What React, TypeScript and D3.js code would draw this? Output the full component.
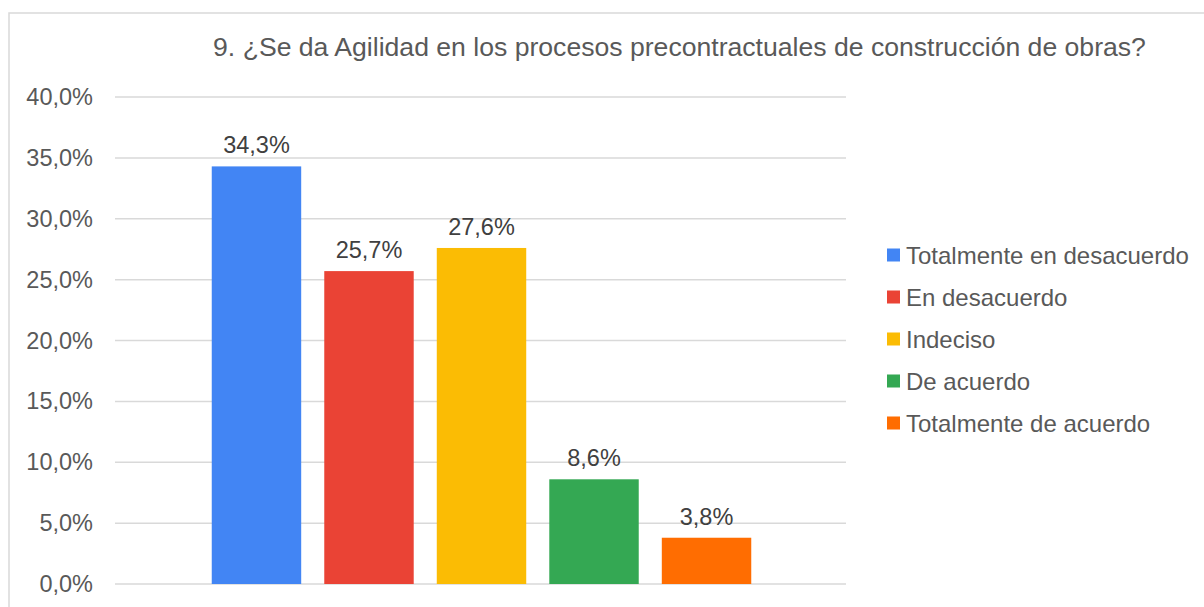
import React from "react";
import * as d3 from "d3";

const title = "9. ¿Se da Agilidad en los procesos precontractuales de construcción de obras?";
const categories = ["Totalmente en desacuerdo", "En desacuerdo", "Indeciso", "De acuerdo", "Totalmente de acuerdo"];
const values = [34.3, 25.7, 27.6, 8.6, 3.8];
const colors = ["#4285F4", "#EA4335", "#FBBC04", "#34A853", "#FF6D01"];
const yTicks = [0, 5, 10, 15, 20, 25, 30, 35, 40];

const fmt = (v: number) => v.toFixed(1).replace(".", ",") + "%";

export default function App() {
  const W = 1204, H = 607;
  const plotL = 115, plotR = 846, plotT = 97, plotB = 584;
  const y = d3.scaleLinear().domain([0, 40]).range([plotB, plotT]);
  const x = d3.scaleBand<string>().domain(categories).range([200.5, 762.5]).paddingInner(0.205).paddingOuter(0.1);
  const font = "Arial, 'Liberation Sans', Helvetica, sans-serif";
  return (
    <svg width={W} height={H} style={{ position: "absolute", left: 0, top: 0 }} fontFamily={font}>
      <rect x={0} y={0} width={W} height={H} fill="#fff" />
      <rect x={9} y={13} width={W + 20} height={H + 20} fill="none" stroke="#d9d9d9" strokeWidth={1.5} />
      <text x={679.5} y={55.5} textAnchor="middle" fontSize={26.6} fill="#595959">{title}</text>
      {yTicks.map((t) => (
        <g key={t}>
          <line x1={plotL} x2={plotR} y1={y(t)} y2={y(t)} stroke="#d9d9d9" strokeWidth={1.5} />
          <text x={93} y={y(t) + 8} textAnchor="end" fontSize={23.5} fill="#595959">{fmt(t)}</text>
        </g>
      ))}
      {categories.map((c, i) => (
        <g key={c}>
          <rect x={x(c)} y={y(values[i])} width={x.bandwidth()} height={plotB - y(values[i])} fill={colors[i]} />
          <text x={(x(c) as number) + x.bandwidth() / 2} y={y(values[i]) - 13} textAnchor="middle" fontSize={23.5} fill="#404040">{fmt(values[i])}</text>
        </g>
      ))}
      {categories.map((c, i) => (
        <g key={c} transform={`translate(887, ${255 + i * 42})`}>
          <rect x={0} y={-6.5} width={13} height={13} fill={colors[i]} />
          <text x={19} y={8.5} fontSize={24} fill="#595959">{c}</text>
        </g>
      ))}
    </svg>
  );
}
